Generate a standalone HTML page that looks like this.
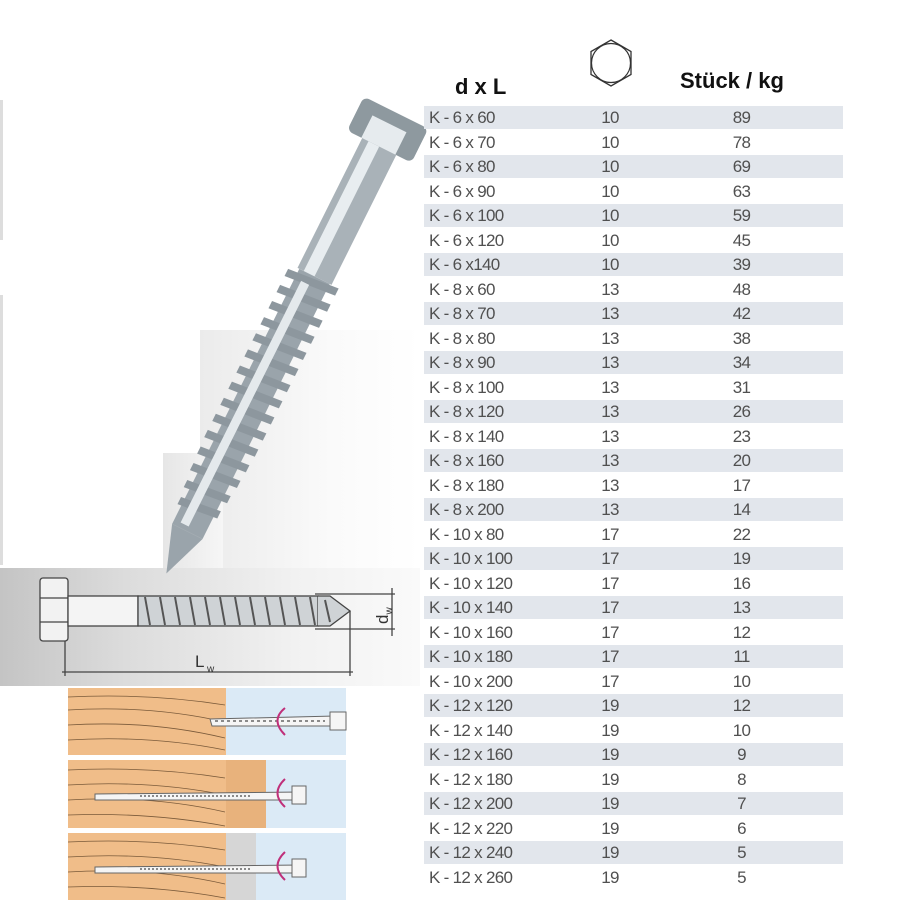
<!DOCTYPE html>
<html><head><meta charset="utf-8"><style>
html,body{margin:0;padding:0;background:#fff;}
body{width:900px;height:900px;position:relative;overflow:hidden;font-family:"Liberation Sans",sans-serif;}
.r{position:absolute;left:424px;width:419px;height:23px;}
.s{background:#e2e6ec;}
.t{position:absolute;font-size:17px;color:#505050;letter-spacing:-0.7px;line-height:23px;top:0;}
.c1{left:5px;}
.c2{left:160px;width:52px;text-align:center;}
.c3{left:290px;width:55px;text-align:center;}
.h{position:absolute;font-weight:bold;font-size:22px;color:#111;}
</style></head><body>
<div style="position:absolute;left:0;top:100px;width:3px;height:140px;background:#ddd"></div>
<div style="position:absolute;left:0;top:295px;width:3px;height:270px;background:#ddd"></div>
<div style="position:absolute;left:200px;top:330px;width:220px;height:240px;background:linear-gradient(90deg,#ebebeb,#fafafa 60%,#fff)"></div>
<div style="position:absolute;left:163px;top:453px;width:60px;height:120px;background:linear-gradient(90deg,#e6e6e6,#f6f6f6)"></div>
<div style="position:absolute;left:0;top:568px;width:420px;height:118px;background:linear-gradient(90deg,#c4c4c4,#dcdcdc 30%,#f1f1f1 70%,#fafafa)"></div>
<div class="h" style="left:455px;top:74px">d x L</div>
<div class="h" style="left:680px;top:68px">Stück / kg</div>
<svg style="position:absolute;left:0;top:0" width="900" height="900">
<polygon points="611,40 631,51.5 631,74.5 611,86 591,74.5 591,51.5" fill="none" stroke="#333" stroke-width="1.3"/>
<circle cx="611" cy="63" r="19.5" fill="none" stroke="#333" stroke-width="1.2"/>
<!-- screw -->
<g transform="translate(385,135) rotate(26.5)">
<rect x="-36" y="-25" width="72" height="38" rx="6" fill="#8e999f"/>
<rect x="-20" y="-12" width="38" height="25" fill="#e6ebee"/>
<rect x="-19" y="13" width="38" height="145" fill="#a9b2b8"/>
<rect x="-12" y="13" width="12" height="145" fill="#e8edf0"/>
<rect x="-17" y="158" width="34" height="285" fill="#9aa4ab"/>
<g fill="#8d979e">
<polygon points="-27,163 27,158 27,166 -27,171"/><polygon points="-27,181 27,176 27,184 -27,189"/><polygon points="-27,199 27,194 27,202 -27,207"/><polygon points="-27,217 27,212 27,220 -27,225"/><polygon points="-27,235 27,230 27,238 -27,243"/><polygon points="-27,253 27,248 27,256 -27,261"/><polygon points="-27,271 27,266 27,274 -27,279"/><polygon points="-27,289 27,284 27,292 -27,297"/><polygon points="-27,307 27,302 27,310 -27,315"/><polygon points="-27,325 27,320 27,328 -27,333"/><polygon points="-27,343 27,338 27,346 -27,351"/><polygon points="-26,361 26,356 26,364 -26,369"/><polygon points="-25,379 25,374 25,382 -25,387"/><polygon points="-23,397 23,392 23,400 -23,405"/><polygon points="-21,415 21,410 21,418 -21,423"/>
</g>
<g fill="#e4e9ec"><rect x="-10" y="168" width="9" height="270"/></g>
<polygon points="-17,443 17,443 0,490" fill="#9aa4ab"/>
</g>
<!-- side drawing -->
<g fill="none" stroke="#444" stroke-width="1.3">
<rect x="40" y="578" width="28" height="63" rx="3" fill="#f2f2f2"/>
<line x1="40" y1="598" x2="68" y2="598"/><line x1="40" y1="622" x2="68" y2="622"/>
<rect x="68" y="596" width="70" height="30" fill="#f4f4f4"/>
<rect x="138" y="596" width="180" height="30" fill="#cfd3d6"/>
<polyline points="318,596 330,596 350,611 330,626 318,626" fill="#cfd3d6"/>
<line x1="315" y1="594" x2="395" y2="594"/><line x1="315" y1="629" x2="395" y2="629"/>
<line x1="392" y1="588" x2="392" y2="636"/>
<line x1="65" y1="641" x2="65" y2="676"/><line x1="350" y1="611" x2="350" y2="676"/>
<line x1="62" y1="672" x2="353" y2="672"/>
</g>
<g stroke="#555" stroke-width="2">
<line x1="145" y1="597" x2="150" y2="625"/><line x1="160" y1="597" x2="165" y2="625"/><line x1="175" y1="597" x2="180" y2="625"/><line x1="190" y1="597" x2="195" y2="625"/><line x1="205" y1="597" x2="210" y2="625"/><line x1="220" y1="597" x2="225" y2="625"/><line x1="235" y1="597" x2="240" y2="625"/><line x1="250" y1="597" x2="255" y2="625"/><line x1="265" y1="597" x2="270" y2="625"/><line x1="280" y1="597" x2="285" y2="625"/><line x1="295" y1="597" x2="300" y2="625"/><line x1="310" y1="597" x2="315" y2="625"/><line x1="325" y1="600" x2="330" y2="622"/>
</g>
<text x="195" y="667" font-family="Liberation Sans" font-size="17" fill="#333">L</text><text x="207" y="672" font-family="Liberation Sans" font-size="10" fill="#333">w</text>
<text transform="translate(388,624) rotate(-90)" font-family="Liberation Sans" font-size="17" fill="#333">d<tspan font-size="10" dy="4">w</tspan></text>
<!-- panels -->
<g>
<rect x="68" y="688" width="158" height="67" fill="#f0bd89"/><rect x="226" y="688" width="120" height="67" fill="#dbeaf6"/>
<rect x="68" y="760" width="158" height="68" fill="#f0bd89"/><rect x="226" y="760" width="40" height="68" fill="#e8b27c"/><rect x="266" y="760" width="80" height="68" fill="#dbeaf6"/>
<rect x="68" y="833" width="158" height="67" fill="#f0bd89"/><rect x="226" y="833" width="30" height="67" fill="#d6d6d6"/><rect x="256" y="833" width="90" height="67" fill="#dbeaf6"/>
</g>
<g fill="none" stroke="#7a5a3a" stroke-width="0.8">
<path d="M68,697 Q150,693 225,705"/><path d="M68,710 Q150,705 225,722"/><path d="M68,725 Q150,720 225,738"/><path d="M68,740 Q150,735 225,750"/>
<path d="M68,770 Q150,766 225,778"/><path d="M68,785 Q150,780 225,795"/><path d="M68,800 Q150,795 225,812"/><path d="M68,815 Q150,812 225,826"/>
<path d="M68,842 Q150,838 225,850"/><path d="M68,857 Q150,852 225,867"/><path d="M68,872 Q150,867 225,884"/><path d="M68,887 Q150,884 225,898"/>
</g>
<g stroke="#666" stroke-width="1" fill="#f5f5f5">
<path d="M210,719 L335,716 L335,726 L212,726 Z"/><rect x="330" y="712" width="16" height="18"/>
<path d="M95,794 L300,792 L300,800 L95,800 Z"/><rect x="292" y="786" width="14" height="18"/>
<path d="M95,867 L300,865 L300,873 L95,873 Z"/><rect x="292" y="859" width="14" height="18"/>
</g>
<g stroke="#666" stroke-width="1.5"><path d="M140,796 h110" stroke-dasharray="2 2"/><path d="M140,869 h110" stroke-dasharray="2 2"/><path d="M215,721 h110" stroke-dasharray="3 3"/></g>
<g fill="none" stroke="#c0307a" stroke-width="2">
<path d="M285,708 Q270,720 285,735"/><path d="M285,779 Q270,793 285,807"/><path d="M285,852 Q270,866 285,880"/>
</g>
</svg>
<div class="r s" style="top:106px"><span class="t c1">K - 6 x 60</span><span class="t c2">10</span><span class="t c3">89</span></div>
<div class="r" style="top:130.5px"><span class="t c1">K - 6 x 70</span><span class="t c2">10</span><span class="t c3">78</span></div>
<div class="r s" style="top:155px"><span class="t c1">K - 6 x 80</span><span class="t c2">10</span><span class="t c3">69</span></div>
<div class="r" style="top:179.5px"><span class="t c1">K - 6 x 90</span><span class="t c2">10</span><span class="t c3">63</span></div>
<div class="r s" style="top:204px"><span class="t c1">K - 6 x 100</span><span class="t c2">10</span><span class="t c3">59</span></div>
<div class="r" style="top:228.5px"><span class="t c1">K - 6 x 120</span><span class="t c2">10</span><span class="t c3">45</span></div>
<div class="r s" style="top:253px"><span class="t c1">K - 6 x140</span><span class="t c2">10</span><span class="t c3">39</span></div>
<div class="r" style="top:277.5px"><span class="t c1">K - 8 x 60</span><span class="t c2">13</span><span class="t c3">48</span></div>
<div class="r s" style="top:302px"><span class="t c1">K - 8 x 70</span><span class="t c2">13</span><span class="t c3">42</span></div>
<div class="r" style="top:326.5px"><span class="t c1">K - 8 x 80</span><span class="t c2">13</span><span class="t c3">38</span></div>
<div class="r s" style="top:351px"><span class="t c1">K - 8 x 90</span><span class="t c2">13</span><span class="t c3">34</span></div>
<div class="r" style="top:375.5px"><span class="t c1">K - 8 x 100</span><span class="t c2">13</span><span class="t c3">31</span></div>
<div class="r s" style="top:400px"><span class="t c1">K - 8 x 120</span><span class="t c2">13</span><span class="t c3">26</span></div>
<div class="r" style="top:424.5px"><span class="t c1">K - 8 x 140</span><span class="t c2">13</span><span class="t c3">23</span></div>
<div class="r s" style="top:449px"><span class="t c1">K - 8 x 160</span><span class="t c2">13</span><span class="t c3">20</span></div>
<div class="r" style="top:473.5px"><span class="t c1">K - 8 x 180</span><span class="t c2">13</span><span class="t c3">17</span></div>
<div class="r s" style="top:498px"><span class="t c1">K - 8 x 200</span><span class="t c2">13</span><span class="t c3">14</span></div>
<div class="r" style="top:522.5px"><span class="t c1">K - 10 x 80</span><span class="t c2">17</span><span class="t c3">22</span></div>
<div class="r s" style="top:547px"><span class="t c1">K - 10 x 100</span><span class="t c2">17</span><span class="t c3">19</span></div>
<div class="r" style="top:571.5px"><span class="t c1">K - 10 x 120</span><span class="t c2">17</span><span class="t c3">16</span></div>
<div class="r s" style="top:596px"><span class="t c1">K - 10 x 140</span><span class="t c2">17</span><span class="t c3">13</span></div>
<div class="r" style="top:620.5px"><span class="t c1">K - 10 x 160</span><span class="t c2">17</span><span class="t c3">12</span></div>
<div class="r s" style="top:645px"><span class="t c1">K - 10 x 180</span><span class="t c2">17</span><span class="t c3">11</span></div>
<div class="r" style="top:669.5px"><span class="t c1">K - 10 x 200</span><span class="t c2">17</span><span class="t c3">10</span></div>
<div class="r s" style="top:694px"><span class="t c1">K - 12 x 120</span><span class="t c2">19</span><span class="t c3">12</span></div>
<div class="r" style="top:718.5px"><span class="t c1">K - 12 x 140</span><span class="t c2">19</span><span class="t c3">10</span></div>
<div class="r s" style="top:743px"><span class="t c1">K - 12 x 160</span><span class="t c2">19</span><span class="t c3">9</span></div>
<div class="r" style="top:767.5px"><span class="t c1">K - 12 x 180</span><span class="t c2">19</span><span class="t c3">8</span></div>
<div class="r s" style="top:792px"><span class="t c1">K - 12 x 200</span><span class="t c2">19</span><span class="t c3">7</span></div>
<div class="r" style="top:816.5px"><span class="t c1">K - 12 x 220</span><span class="t c2">19</span><span class="t c3">6</span></div>
<div class="r s" style="top:841px"><span class="t c1">K - 12 x 240</span><span class="t c2">19</span><span class="t c3">5</span></div>
<div class="r" style="top:865.5px"><span class="t c1">K - 12 x 260</span><span class="t c2">19</span><span class="t c3">5</span></div>
</body></html>
